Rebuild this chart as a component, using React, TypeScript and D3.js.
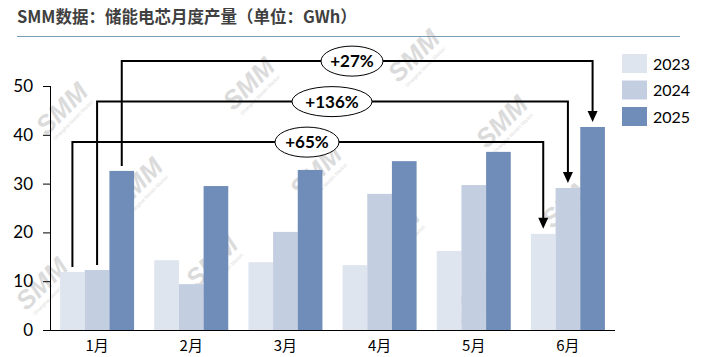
import React from "react";
import * as d3 from "d3";

const months = ["1月", "2月", "3月", "4月", "5月", "6月"];
const seriesNames = ["2023", "2024", "2025"];
const values2023 = [11.9, 14.3, 13.9, 13.3, 16.2, 19.7];
const values2024 = [12.3, 9.4, 20.1, 27.9, 29.7, 29.1];
const values2025 = [32.6, 29.5, 32.8, 34.6, 36.5, 41.6];
const yTicks = [0, 10, 20, 30, 40, 50];

// annotations: from Jan bar of series i to Jun bar of series i
const annotLabels = ["+65%", "+136%", "+27%"];
const annotSeries = [0, 1, 2];
const annotLevels = [38.5, 46.8, 55.1];

const colors = ["#dfe5ef", "#c4cee1", "#6f8db8"];

const W = 712;
const H = 357;
const left = 50;
const right = 615;
const bottom = 330;
const top = 86;

const watermarks: [number, number][] = [
  [68, 115], [255, 90], [143, 190], [218, 268], [322, 178], [48, 290],
  [508, 128], [400, 240], [478, 306], [574, 208], [420, 62],
];

export default function App() {
  const all = [values2023, values2024, values2025];
  const x = d3.scaleBand<string>().domain(months).range([left, right]).paddingInner(0.214).paddingOuter(0.107);
  const xi = d3.scaleBand<string>().domain(seriesNames).range([0, x.bandwidth()]);
  const y = d3.scaleLinear().domain([0, 50]).range([bottom, top]);
  const font = "Lato, 'Noto Sans CJK SC', sans-serif";

  const labelX = [307, 332, 352];
  const labelRx = [32, 40, 31];

  return (
    <svg width={W} height={H} style={{ position: "absolute", left: 0, top: 0 }} fontFamily={font}>
      <rect width={W} height={H} fill="#fff" />
      <text x={17} y={23} fontSize={16.5} fontWeight="bold" fill="#404040" fontFamily="'Noto Sans CJK SC', sans-serif">
        SMM数据：储能电芯月度产量（单位：GWh）
      </text>
      <line x1={17} x2={680} y1={36.5} y2={36.5} stroke="#7a9cb5" strokeWidth={1.2} />

      {/* watermarks */}
      {watermarks.map(([wx, wy], i) => (
        <g key={i} transform={`translate(${wx},${wy}) rotate(-45)`} opacity={0.35}>
          <text textAnchor="middle" fontSize={26} fontWeight="bold" fontStyle="italic" fill="#9a9a9a" fontFamily="'Liberation Sans', sans-serif">SMM</text>
          <text textAnchor="middle" y={9} fontSize={5} fill="#9a9a9a" fontFamily="'Liberation Sans', sans-serif">Shanghai Metals Market</text>
        </g>
      ))}

      {/* bars */}
      {all.map((vals, si) =>
        vals.map((v, mi) => (
          <rect
            key={`${si}-${mi}`}
            x={(x(months[mi]) ?? 0) + (xi(seriesNames[si]) ?? 0)}
            y={y(v)}
            width={xi.bandwidth()}
            height={bottom - y(v)}
            fill={colors[si]}
          />
        ))
      )}

      {/* axes */}
      <line x1={left + 0.5} x2={left + 0.5} y1={top} y2={bottom} stroke="#000" strokeWidth={1} />
      <line x1={43} x2={right} y1={bottom + 0.5} y2={bottom + 0.5} stroke="#000" strokeWidth={1} />
      {yTicks.map((t) => (
        <g key={t}>
          <line x1={43} x2={left} y1={y(t) + 0.5} y2={y(t) + 0.5} stroke="#000" />
          <text x={33} y={y(t)} dy="0.35em" textAnchor="end" fontSize={17} fill="#000">{t}</text>
        </g>
      ))}
      {months.map((m) => (
        <text key={m} x={(x(m) ?? 0) + x.bandwidth() / 2} y={346} dy="0.35em" textAnchor="middle" fontSize={15} fill="#000" fontFamily="'Noto Sans CJK SC', sans-serif">{m}</text>
      ))}

      {/* annotations */}
      {annotLabels.map((lab, i) => {
        const s = annotSeries[i];
        const x0 = (x(months[0]) ?? 0) + (xi(seriesNames[s]) ?? 0) + xi.bandwidth() / 2;
        const x1 = (x(months[5]) ?? 0) + (xi(seriesNames[s]) ?? 0) + xi.bandwidth() / 2;
        const y0 = y(all[s][0]) - 5;
        const yl = y(annotLevels[i]);
        const yTip = y(all[s][5]) - 5;
        return (
          <g key={lab}>
            <path d={`M${x0},${y0}V${yl}H${x1}V${yTip - 10}`} fill="none" stroke="#000" strokeWidth={2} />
            <path d={`M${x1 - 5},${yTip - 11}L${x1 + 5},${yTip - 11}L${x1},${yTip}Z`} fill="#000" />
            <ellipse cx={labelX[i]} cy={yl} rx={labelRx[i]} ry={15} fill="#fff" stroke="#000" strokeWidth={1} />
            <text x={labelX[i]} y={yl} dy="0.36em" textAnchor="middle" fontSize={17} fontWeight="bold" fill="#000">{lab}</text>
          </g>
        );
      })}

      {/* legend */}
      {seriesNames.map((s, i) => (
        <g key={s} transform={`translate(622,${54 + i * 26.5})`}>
          <rect width={25} height={19} fill={colors[i]} />
          <text x={31} y={10} dy="0.35em" fontSize={16} fill="#000">{s}</text>
        </g>
      ))}
    </svg>
  );
}
